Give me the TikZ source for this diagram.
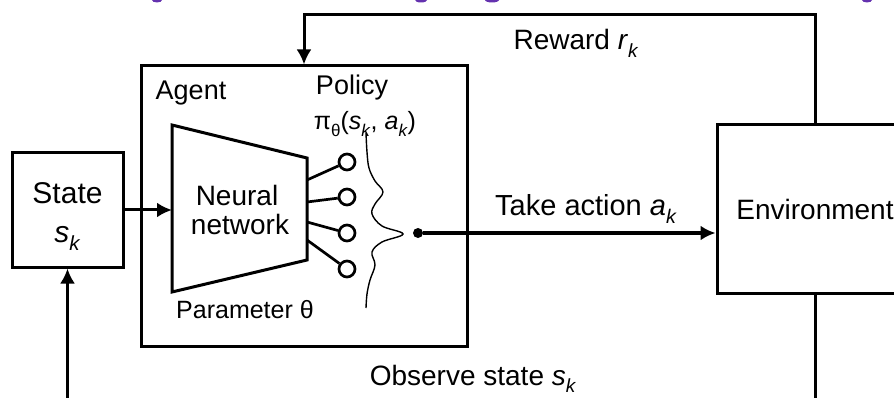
\documentclass[tikz,border=0pt]{standalone}
\usepackage{fontspec}
\setmainfont{Liberation Sans}
\usetikzlibrary{arrows.meta}
\definecolor{titlepurple}{RGB}{100,50,175}
\newcommand\itsub[2]{\textit{#1}\raisebox{-0.28em}{\scalebox{0.68}{\textit{#2}}}}
\newcommand\upsub[2]{#1\raisebox{-0.28em}{\scalebox{0.68}{#2}}}
\begin{document}
\begin{tikzpicture}[x=1pt,y=-1pt,
  thick line/.style={line width=3pt},
  box/.style={draw,line width=3pt,rectangle,inner sep=0pt},
  arr/.style={line width=3pt,-{Latex[length=15pt,width=15pt]}},
  big/.style={font=\fontsize{28}{33}\selectfont},
  mid/.style={font=\fontsize{27}{32}\selectfont},
  small/.style={font=\fontsize{25}{30}\selectfont},
  outnode/.style={circle,draw,line width=2.7pt,minimum size=16pt,inner sep=0pt},
  lbl/.style={anchor=base,inner sep=0pt}
]
\useasboundingbox (0,0) rectangle (894,398);
\clip (0,0) rectangle (894,398);
\fill[white] (0,0) rectangle (894,398);
% cropped title fragments
\foreach \px/\w in {157/5, 421/6, 492/7, 867/5}{
  \fill[titlepurple] (\px,0) ellipse ({\w pt} and 2.5pt);
}
% boxes
\node[box,minimum width=111pt,minimum height=114pt] (state) at (67.5,210) {};
\node[lbl,font=\fontsize{30}{35}\selectfont] (statet) at (67.5,204) {State};
\node[lbl,font=\fontsize{30}{35}\selectfont] (statesk) at (67.5,242) {\itsub{s}{k}};
\node[box,minimum width=326pt,minimum height=280pt] (agent) at (304,206) {};
\node[box,minimum width=196pt,minimum height=168pt,big] (env) at (815,209) {Environment};
% neural network trapezoid
\coordinate (tl) at (172,125);
\coordinate (tr) at (307,158);
\coordinate (br) at (307,260);
\coordinate (bl) at (172,292);
\draw[thick line,line join=miter] (tl) -- (tr) -- (br) -- (bl) -- cycle;
\coordinate (nnin) at (172,210);
\node[lbl,big] (neural) at (237,206) {Neural};
\node[lbl,big] (network) at (240,235) {network};
\node[lbl,small] (param) at (245,318) {Parameter θ};
\node[lbl,mid] (agentt) at (191,100) {Agent};
\node[lbl,mid] (policy) at (352,95) {Policy};
\node[lbl,small] (pi) at (365,130) {\upsub{π}{θ}(\itsub{s}{k}, \itsub{a}{k})};
% outputs
\coordinate (o1) at (307,180);
\coordinate (o2) at (307,202);
\coordinate (o3) at (307,222);
\coordinate (o4) at (307,240);
\node[outnode] (c1) at (347,162) {};
\node[outnode] (c2) at (347,197) {};
\node[outnode] (c3) at (347,233) {};
\node[outnode] (c4) at (347,269) {};
\foreach \i in {1,2,3,4}{\draw[line width=2.7pt] (o\i) -- (c\i);}
% distribution curve
\draw[line width=1.4pt] plot[smooth,tension=0.6] coordinates {(366,133) (367,152) (369,168) (375,181) (383,192) (375,204) (372,214) (382,226) (403,234) (382,242) (372,252) (375,265) (370,280) (367,294) (366,308)};
% action
\node[circle,fill,minimum size=10pt,inner sep=0pt] (dot) at (418,233) {};
\draw[arr] (dot) -- (dot -| env.west);
\node[lbl,font=\fontsize{29}{34}\selectfont] (take) at (586,215) {Take action \itsub{a}{k}};
% connections
\draw[arr] (state.east) -- (nnin);
\coordinate (topR) at (815,15);
\coordinate (topL) at (304,15);
\draw[arr] (env.north) -- (topR) -- (topL) -- (agent.north);
\node[lbl,big] (reward) at (576,50) {Reward \itsub{r}{k}};
\coordinate (botR) at (815,420);
\coordinate (botL) at (67.5,420);
\draw[arr] (env.south) -- (botR) -- (botL) -- (state.south);
\node[lbl,big] (observe) at (473,385) {Observe state \itsub{s}{k}};
\end{tikzpicture}
\end{document}
